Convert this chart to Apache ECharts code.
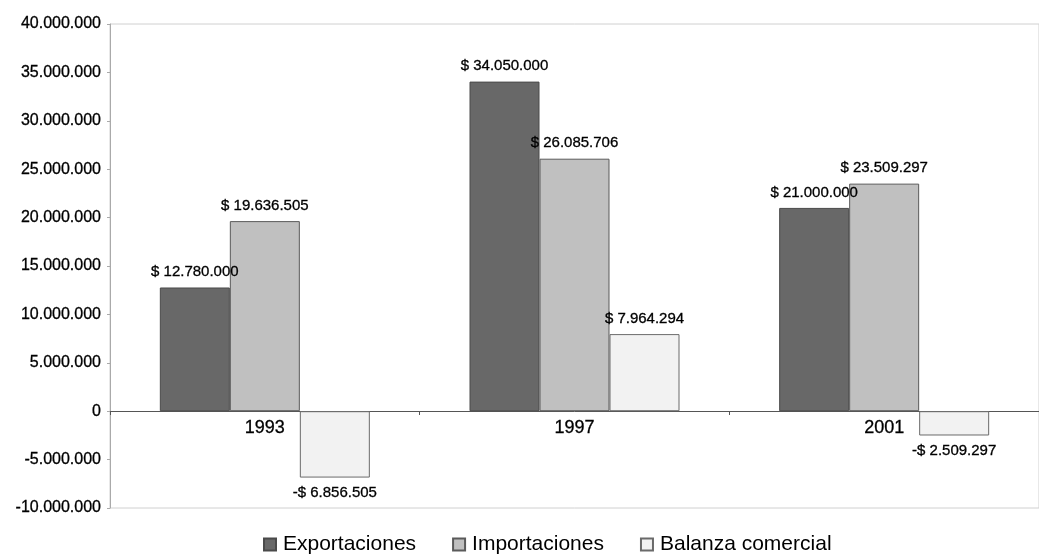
<!DOCTYPE html>
<html>
<head>
<meta charset="utf-8">
<title>Balanza comercial</title>
<script src="https://cdn.jsdelivr.net/npm/echarts@6/dist/echarts.min.js"></script>
<style>
    html, body { margin: 0; padding: 0; background: #fff; }
    #chart-bar-01 { width: 1039px; height: 557px; }
</style>
</head>
<body>
<div id="chart-bar-01"></div>
<script>
// 数据
var years = ['1993', '1997', '2001'];
var exportaciones = [12780000, 34050000, 21000000];
var importaciones = [19636505, 26085706, 23509297];
var balanza = [-6856505, 7964294, -2509297];

var fontFam = '"Liberation Sans", Arial, Helvetica, sans-serif';

// 千位用点号分隔
function fmtNum(v) {
    var s = String(Math.abs(Math.round(v)));
    s = s.replace(/\B(?=(\d{3})+(?!\d))/g, '.');
    return (v < 0 ? '-' : '') + s;
}

function fmtMoney(v) {
    return (v < 0 ? '-$ ' : '$ ') + fmtNum(Math.abs(v));
}

// 负值标签放在柱子下面
function toData(arr) {
    return arr.map(function (v) {
        return {
            value: v,
            label: { position: v < 0 ? 'bottom' : 'top' }
        };
    });
}

var chart = echarts.init(document.getElementById('chart-bar-01'));

var barLabel = {
    show: true,
    position: 'top',
    distance: 8,
    color: '#000',
    fontSize: 15,
    fontFamily: fontFam,
    textBorderColor: '#000',
    textBorderWidth: 0.3,
    formatter: function (p) { return fmtMoney(p.value); }
};

var option = {
    animation: false,
    backgroundColor: '#fff',
    grid: {
        left: 110,
        top: 24,
        width: 939,
        height: 484,
        show: true,
        borderColor: '#d0d0d0',
        borderWidth: 1
    },
    legend: {
        left: 258,
        top: 529,
        itemWidth: 12,
        itemHeight: 12,
        itemGap: 36,
        icon: 'rect',
        textStyle: {
            color: '#000',
            fontSize: 21,
            fontFamily: fontFam,
            padding: [0, 0, 0, 2]
        },
        data: ['Exportaciones', 'Importaciones', 'Balanza comercial']
    },
    xAxis: {
        type: 'category',
        data: years,
        // 轴线和标签一起移到 0 的位置
        offset: -97,
        axisLine: {
            onZero: false,
            lineStyle: { color: '#555', width: 1 }
        },
        axisTick: {
            show: true,
            length: 4,
            lineStyle: { color: '#555' }
        },
        axisLabel: {
            color: '#000',
            fontSize: 18,
            margin: 8,
            fontFamily: fontFam,
            textBorderColor: '#000',
            textBorderWidth: 0.3
        }
    },
    yAxis: {
        type: 'value',
        min: -10000000,
        max: 40000000,
        interval: 5000000,
        axisLine: {
            show: true,
            lineStyle: { color: '#aaa' }
        },
        axisTick: {
            show: true,
            length: 3,
            lineStyle: { color: '#aaa' }
        },
        splitLine: { show: false },
        axisLabel: {
            color: '#000',
            fontSize: 16,
            margin: 9,
            fontFamily: fontFam,
            textBorderColor: '#000',
            textBorderWidth: 0.3,
            formatter: fmtNum
        }
    },
    series: [{
        name: 'Exportaciones',
        type: 'bar',
        barWidth: 70,
        barGap: '0%',
        data: toData(exportaciones),
        itemStyle: { color: '#686868', borderColor: '#4a4a4a', borderWidth: 1 },
        label: barLabel
    }, {
        name: 'Importaciones',
        type: 'bar',
        barWidth: 70,
        barGap: '0%',
        data: toData(importaciones),
        itemStyle: { color: '#c0c0c0', borderColor: '#5a5a5a', borderWidth: 1 },
        label: barLabel
    }, {
        name: 'Balanza comercial',
        type: 'bar',
        barWidth: 70,
        barGap: '0%',
        data: toData(balanza),
        itemStyle: { color: '#f2f2f2', borderColor: '#6a6a6a', borderWidth: 1 },
        label: barLabel
    }]
};

chart.setOption(option);
</script>
</body>
</html>
